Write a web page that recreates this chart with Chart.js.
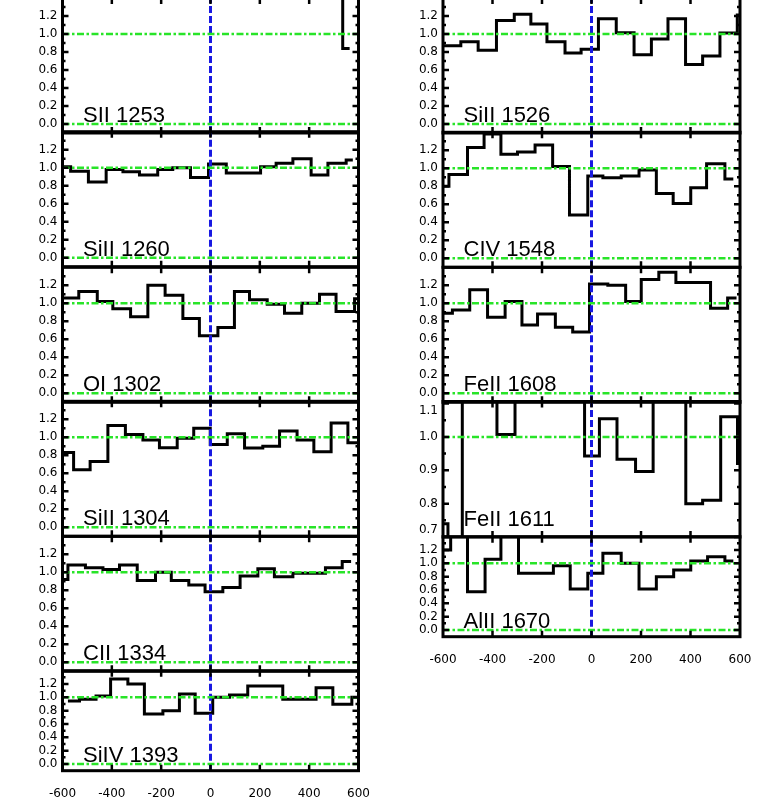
<!DOCTYPE html>
<html>
<head>
<meta charset="utf-8">
<script src="https://cdn.jsdelivr.net/npm/chart.js@4.4.1/dist/chart.umd.min.js"></script>
<style>
  html, body { margin: 0; padding: 0; background: #fff; }
  #wrap { position: relative; width: 761px; height: 807px; overflow: hidden; }
  #wrap canvas { position: absolute; top: -10px; }
</style>
</head>
<body>
<div id="wrap"></div>
<script>
// axis ticks
const velocityTicks = [-600, -400, -200, 0, 200, 400, 600];
const fluxTicks = [0.0, 0.2, 0.4, 0.6, 0.8, 1.0, 1.2];
const fluxTicks1611 = [0.7, 0.8, 0.9, 1.0, 1.1];
const continuumLevels = [0, 1];

// bin edges (km/s) and normalised flux in each bin
const edges1253 = [-600, 536, 564];
const flux1253 = [1.5, 0.84];

const edges1260 = [-600, -567, -495, -423, -355, -288, -214, -153, -81, -8, 64, 134, 203, 266, 334, 408, 476, 550, 577];
const flux1260 = [1.01, 0.96, 0.84, 0.98, 0.955, 0.92, 0.98, 1.0, 0.89, 1.04, 0.94, 0.94, 1.01, 1.05, 1.10, 0.92, 1.05, 1.085];

const edges1302 = [-600, -534, -459, -396, -324, -254, -184, -112, -45, 30, 97, 158, 230, 300, 370, 442, 509, 584, 600];
const flux1302 = [1.06, 1.13, 1.02, 0.94, 0.85, 1.20, 1.09, 0.83, 0.64, 0.73, 1.13, 1.04, 0.99, 0.89, 1.0, 1.10, 0.91, 1.05];

const edges1304 = [-600, -555, -488, -416, -345, -274, -207, -135, -68, -1, 68, 138, 212, 280, 351, 419, 489, 557, 600];
const flux1304 = [0.83, 0.64, 0.73, 1.13, 1.03, 0.97, 0.885, 0.99, 1.10, 0.92, 1.04, 0.88, 0.90, 1.07, 0.97, 0.84, 1.16, 0.94];

const edges1334 = [-600, -578, -507, -436, -369, -297, -223, -159, -88, -22, 50, 120, 192, 259, 334, 466, 534, 570];
const flux1334 = [0.92, 1.08, 1.05, 1.03, 1.08, 0.91, 1.0, 0.91, 0.86, 0.785, 0.83, 0.96, 1.04, 0.95, 0.99, 1.05, 1.12];

const edges1393 = [-578, -531, -464, -405, -335, -268, -193, -126, -62, 9, 77, 151, 293, 428, 496, 573, 600];
const flux1393 = [0.945, 0.97, 1.02, 1.275, 1.2, 0.75, 0.80, 1.05, 0.76, 1.0, 1.035, 1.17, 0.97, 1.145, 0.895, 1.0];

const edges1526 = [-600, -528, -458, -384, -312, -245, -180, -107, -42, 28, 100, 172, 242, 309, 380, 449, 519, 589, 600];
const flux1526 = [0.87, 0.915, 0.82, 1.15, 1.22, 1.11, 0.915, 0.79, 0.83, 1.17, 1.015, 0.77, 0.945, 1.17, 0.66, 0.755, 1.01, 1.21];

const edges1548 = [-600, -576, -501, -434, -366, -299, -228, -157, -89, -15, 46, 120, 192, 262, 330, 401, 465, 539, 573];
const flux1548 = [0.80, 0.93, 1.23, 1.38, 1.155, 1.18, 1.26, 1.02, 0.48, 0.915, 0.895, 0.915, 0.98, 0.72, 0.61, 0.785, 1.05, 0.88];

const edges1608 = [-600, -562, -492, -420, -349, -281, -218, -146, -76, -8, 66, 138, 201, 272, 341, 481, 550, 586];
const flux1608 = [0.89, 0.925, 1.15, 0.845, 1.02, 0.76, 0.88, 0.735, 0.68, 1.215, 1.20, 1.02, 1.265, 1.345, 1.23, 0.945, 1.06];

const edges1611 = [-600, -580, -522, -382, -309, -28, 32, 103, 178, 249, 381, 449, 522, 590, 600];
const flux1611 = [0.74, 0.6, 1.2, 1.007, 1.2, 0.943, 1.054, 0.933, 0.896, 1.2, 0.80, 0.81, 1.06, 0.92];

const edges1670 = [-600, -569, -501, -430, -366, -295, -154, -86, -15, 46, 120, 192, 262, 332, 401, 469, 539, 573];
const flux1670 = [1.2, 1.6, 0.575, 1.06, 1.6, 0.85, 0.965, 0.615, 0.85, 1.15, 1.0, 0.615, 0.80, 0.90, 1.035, 1.10, 1.035];

// page layout: two columns of stacked panels
const columns = [
  { canvasLeft: 0, canvasWidth: 380, plotLeft: 62.5, plotRight: 358.5 },
  { canvasLeft: 380, canvasWidth: 381, plotLeft: 443, plotRight: 740 }
];
const CANVAS_H = 817;

const panels = [
  { label: 'SII 1253',  edges: edges1253, flux: flux1253, col: 0, top: -2,    bottom: 133 },
  { label: 'SiII 1260', edges: edges1260, flux: flux1260, col: 0, top: 131.7, bottom: 266.7 },
  { label: 'OI 1302',   edges: edges1302, flux: flux1302, col: 0, top: 267.3, bottom: 402.3 },
  { label: 'SiII 1304', edges: edges1304, flux: flux1304, col: 0, top: 401.3, bottom: 536.3 },
  { label: 'CII 1334',  edges: edges1334, flux: flux1334, col: 0, top: 536.3, bottom: 671.3 },
  { label: 'SiIV 1393', edges: edges1393, flux: flux1393, col: 0, top: 670.7, bottom: 770.7, xLabels: true, short: true },
  { label: 'SiII 1526', edges: edges1526, flux: flux1526, col: 1, top: -2,    bottom: 133 },
  { label: 'CIV 1548',  edges: edges1548, flux: flux1548, col: 1, top: 132.3, bottom: 267.3 },
  { label: 'FeII 1608', edges: edges1608, flux: flux1608, col: 1, top: 267.3, bottom: 402.3 },
  { label: 'FeII 1611', edges: edges1611, flux: flux1611, col: 1, top: 401.5, bottom: 537,
    yMin: 0.7, yMax: 1.106, yTicks: fluxTicks1611 },
  { label: 'AlII 1670', edges: edges1670, flux: flux1670, col: 1, top: 536.7, bottom: 636.7, xLabels: true, short: true }
];

const tickFont = { family: '"DejaVu Sans", sans-serif', size: 12 };

// box, inward tick marks and the line name, drawn IDL style
const idlFrame = {
  id: 'idlFrame',
  afterDatasetsDraw(chart, args, opts) {
    const { ctx, chartArea: { left, right, top, bottom }, scales: { x, y } } = chart;
    ctx.save();
    ctx.strokeStyle = '#000';
    ctx.lineWidth = 2.5;
    ctx.beginPath();
    velocityTicks.slice(1, -1).forEach(v => {
      const px = x.getPixelForValue(v);
      ctx.moveTo(px, bottom); ctx.lineTo(px, bottom - 6);
      ctx.moveTo(px, top); ctx.lineTo(px, top + 6);
    });
    const yt = opts.yTicks;
    const half = (yt[1] - yt[0]) / 2;
    yt.forEach(v => {
      const py = y.getPixelForValue(v);
      ctx.moveTo(left, py); ctx.lineTo(left + 6, py);
      ctx.moveTo(right, py); ctx.lineTo(right - 6, py);
      const pm = y.getPixelForValue(v + half);
      if (pm > top) {
        ctx.moveTo(left, pm); ctx.lineTo(left + 3, pm);
        ctx.moveTo(right, pm); ctx.lineTo(right - 3, pm);
      }
    });
    ctx.stroke();
    ctx.lineWidth = 3;
    ctx.strokeRect(left, top, right - left, bottom - top);
    ctx.fillStyle = '#000';
    ctx.font = '22px "Liberation Sans", Arial, sans-serif';
    ctx.textBaseline = 'alphabetic';
    ctx.fillText(opts.label, left + 20.5, bottom - opts.lift);
    ctx.restore();
  }
};

const wrap = document.getElementById('wrap');

panels.forEach(p => {
  const c = columns[p.col];
  const yMin = p.yMin ?? -0.1;
  const yMax = p.yMax ?? 1.4;
  const yTicks = p.yTicks ?? fluxTicks;
  const xAxisH = p.xLabels ? 40 : 0;

  const canvas = document.createElement('canvas');
  canvas.width = c.canvasWidth;
  canvas.height = CANVAS_H;
  canvas.style.left = c.canvasLeft + 'px';
  wrap.appendChild(canvas);

  const spectrum = p.flux.flatMap((f, i) => [
    { x: p.edges[i], y: f },
    { x: p.edges[i + 1], y: f }
  ]);

  const datasets = [];
  continuumLevels.filter(l => l >= yMin && l <= yMax).forEach(l => {
    datasets.push({
      data: [{ x: -600, y: l }, { x: 600, y: l }],
      borderColor: 'rgb(40,228,40)',
      borderWidth: 2.5,
      borderDash: [7, 2.5, 2.5, 2.5],
      pointRadius: 0,
      order: 0
    });
  });
  datasets.push({
    data: [{ x: 0, y: yMin }, { x: 0, y: yMax }],
    borderColor: 'rgb(25,25,225)',
    borderWidth: 3,
    borderDash: [7, 3],
    pointRadius: 0,
    order: 0
  });
  datasets.push({
    data: spectrum,
    borderColor: '#000',
    borderWidth: 3,
    pointRadius: 0,
    tension: 0,
    clip: 0,
    order: 1
  });

  // labels sitting on the frame edge are nudged inside it, as IDL does
  const yLabel = v => {
    const s = Number(v).toFixed(1);
    const span = yMax - yMin;
    if (v - yMin < 0.03 * span) return [s, ''];
    if (yMax - v < 0.03 * span) return ['', s];
    return s;
  };

  new Chart(canvas, {
    type: 'line',
    data: { datasets },
    options: {
      responsive: false,
      animation: false,
      devicePixelRatio: 1,
      layout: {
        padding: {
          left: 0,
          right: c.canvasLeft + c.canvasWidth - c.plotRight,
          top: p.top + 10,
          bottom: CANVAS_H - (p.bottom + 10) - xAxisH
        }
      },
      plugins: {
        legend: { display: false },
        tooltip: { enabled: false },
        idlFrame: { label: p.label, yTicks, lift: p.short ? 9 : 11 }
      },
      scales: {
        x: {
          type: 'linear',
          min: -600,
          max: 600,
          display: !!p.xLabels,
          grid: { display: false, drawTicks: false },
          border: { display: false },
          afterBuildTicks: s => { s.ticks = velocityTicks.map(value => ({ value })); },
          afterFit: s => { s.height = xAxisH; s.paddingLeft = 0; s.paddingRight = 0; },
          ticks: { padding: 16, font: tickFont, color: '#000', maxRotation: 0, autoSkip: false,
                   callback: v => String(v) }
        },
        y: {
          type: 'linear',
          min: yMin,
          max: yMax,
          grid: { display: false, drawTicks: false },
          border: { display: false },
          afterBuildTicks: s => { s.ticks = yTicks.map(value => ({ value })); },
          afterFit: s => { s.width = c.plotLeft - c.canvasLeft; s.paddingTop = 0; s.paddingBottom = 0; },
          ticks: { padding: 5, font: tickFont, color: '#000', autoSkip: false, callback: yLabel }
        }
      }
    },
    plugins: [idlFrame]
  });
});
</script>
</body>
</html>
